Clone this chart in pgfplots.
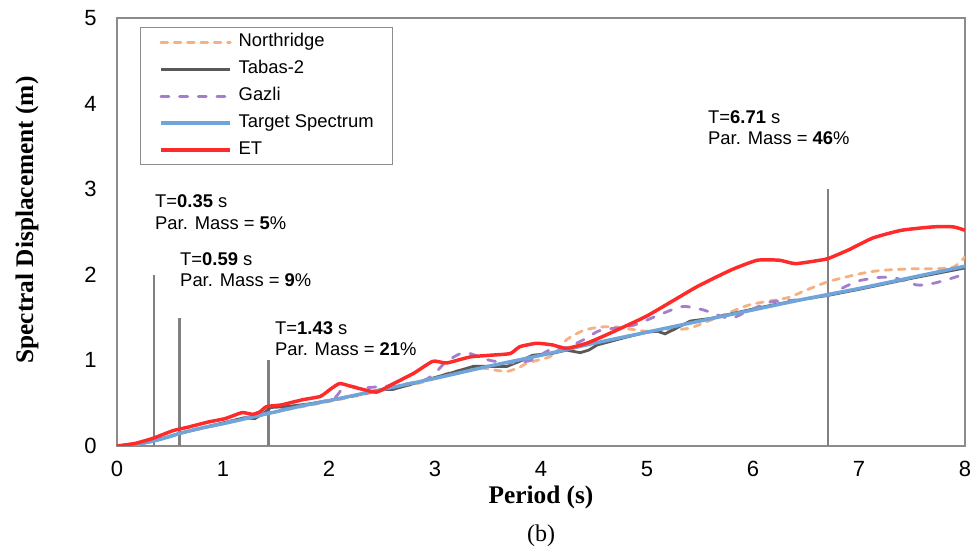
\documentclass[border=0pt]{standalone}
\usepackage{pgfplots}
\pgfplotsset{compat=1.18}
\usepackage{fontspec}
\setmainfont{Liberation Sans}
\newfontfamily\serifface{Liberation Serif}

\definecolor{nrOrange}{HTML}{F4B183}
\definecolor{tabGray}{HTML}{595959}
\definecolor{gazPurple}{HTML}{A37FCB}
\definecolor{tgtBlue}{HTML}{6FA5DA}
\definecolor{etRed}{HTML}{FF2B2B}
\definecolor{frameGray}{HTML}{8C8C8C}
\definecolor{modeGray}{HTML}{808080}

\begin{document}
\begin{tikzpicture}
\useasboundingbox (-87.75pt,-79.5pt) rectangle (643.5pt,334.5pt);
\begin{axis}[
  at={(0pt,0pt)}, anchor=south west,
  scale only axis, width=636pt, height=321pt,
  xmin=0, xmax=8, ymin=0, ymax=5,
  xtick={0,1,...,8}, ytick={0,1,...,5},
  major tick length=0pt,
  axis line style={draw=frameGray, line width=1.2pt},
  /pgf/number format/assume math mode=true,
  ticklabel style={font=\fontsize{16.5}{16.5}\selectfont},
  yticklabel style={anchor=east, inner sep=0pt, xshift=-15pt},
  xticklabel style={anchor=north, inner sep=0pt, yshift=-11pt},
  xlabel={\serifface\bfseries Period (s)},
  ylabel={\serifface\bfseries Spectral Displacement (m)},
  label style={font=\fontsize{19}{19}\selectfont},
  xlabel style={at={(axis description cs:0.5,-0.119)}, anchor=center},
  ylabel style={at={(axis description cs:-0.106,0.528)}, anchor=center},
  legend cell align=left,
  legend image code/.code={\draw[#1] (0pt,0pt) -- (52pt,0pt);},
  legend style={at={(axis description cs:0.027,0.979)}, anchor=north west,
    draw=frameGray, line width=1pt, font=\fontsize{13.8}{16}\selectfont,
    inner xsep=14pt, inner ysep=4.4pt, row sep=7.25pt, column sep=5pt,
    nodes={inner sep=0pt, text height=10pt, text depth=3pt}},
]
% modal periods
\addplot[modeGray, line width=1.8pt, forget plot] coordinates {(0.35,0) (0.35,2)};
\addplot[modeGray, line width=1.8pt, forget plot] coordinates {(0.59,0) (0.59,1.5)};
\addplot[modeGray, line width=1.8pt, forget plot] coordinates {(1.43,0) (1.43,1)};
\addplot[modeGray, line width=1.8pt, forget plot] coordinates {(6.71,0) (6.71,3)};

% Northridge
\addplot[nrOrange, line width=2.1pt, line cap=round, dash pattern=on 5pt off 5pt, smooth, tension=0.4] coordinates {
(0,0) (0.35,0.06) (0.6,0.15) (1.0,0.26) (1.5,0.40) (2.0,0.52) (2.2,0.57)
(2.5,0.65) (2.8,0.72) (3.0,0.79) (3.14,0.86) (3.3,0.90) (3.45,0.91)
(3.6,0.88) (3.68,0.87) (3.8,0.92) (3.87,0.97) (4.08,1.04) (4.16,1.12)
(4.24,1.24) (4.4,1.35) (4.56,1.39) (4.7,1.39) (4.87,1.36) (5.0,1.34)
(5.19,1.35) (5.41,1.38) (5.66,1.50) (5.97,1.65) (6.32,1.73) (6.5,1.82)
(6.71,1.92) (7.0,2.01) (7.2,2.05) (7.5,2.07) (7.67,2.07) (7.89,2.09) (8.0,2.21)};
\addlegendentry{Northridge}

% Tabas-2
\addplot[tabGray, line width=2.1pt] coordinates {
(0,0) (0.2,0.02) (0.35,0.06) (0.6,0.15) (0.8,0.21) (1.0,0.27) (1.2,0.33)
(1.3,0.32) (1.38,0.38) (1.45,0.45) (1.6,0.46) (1.8,0.49) (2.0,0.53)
(2.2,0.58) (2.4,0.63) (2.5,0.66) (2.6,0.66) (2.8,0.73) (3.0,0.80)
(3.2,0.87) (3.36,0.93) (3.5,0.93) (3.68,0.93) (3.8,0.99) (3.92,1.06)
(4.1,1.08) (4.24,1.12) (4.37,1.09) (4.45,1.12) (4.53,1.18) (4.8,1.27)
(5.0,1.33) (5.1,1.34) (5.17,1.31) (5.25,1.36) (5.41,1.46) (5.6,1.49)
(6.0,1.60) (6.2,1.65) (6.5,1.72) (6.71,1.76) (7.0,1.83) (7.5,1.96) (8.0,2.08)};
\addlegendentry{Tabas-2}

% Gazli
\addplot[gazPurple, line width=2.1pt, line cap=round, dash pattern=on 6pt off 8pt, smooth, tension=0.4] coordinates {
(0,0) (0.35,0.06) (0.6,0.15) (1.0,0.27) (1.5,0.41) (1.9,0.51) (2.05,0.56)
(2.12,0.66) (2.18,0.70) (2.3,0.68) (2.45,0.69) (2.7,0.72) (2.9,0.77)
(3.0,0.85) (3.1,0.98) (3.24,1.08) (3.33,1.08) (3.52,1.00) (3.71,0.97)
(3.9,1.00) (4.08,1.12) (4.24,1.15) (4.4,1.24) (4.56,1.35) (4.87,1.41)
(5.15,1.55) (5.34,1.63) (5.53,1.59) (5.78,1.49) (5.94,1.57) (6.16,1.68)
(6.35,1.70) (6.5,1.72) (6.71,1.76) (6.85,1.85) (7.0,1.93) (7.2,1.97)
(7.35,1.96) (7.55,1.88) (7.7,1.90) (7.85,1.95) (8.0,2.01)};
\addlegendentry{Gazli}

% Target spectrum
\addplot[tgtBlue, line width=2.6pt, smooth, tension=0.4] coordinates {
(0,0) (0.1,0.005) (0.2,0.02) (0.35,0.06) (0.5,0.11) (0.6,0.15) (0.8,0.21)
(1.0,0.26) (1.25,0.33) (1.5,0.40) (1.75,0.47) (2.0,0.53) (2.5,0.66)
(3.0,0.79) (3.5,0.93) (4.0,1.06) (4.5,1.20) (5.0,1.33) (5.5,1.46)
(6.0,1.59) (6.5,1.72) (7.0,1.84) (7.5,1.97) (8.0,2.10)};
\addlegendentry{Target Spectrum}

% ET
\addplot[etRed, line width=2.6pt, line join=round, smooth, tension=0.3] coordinates {
(0,0) (0.17,0.03) (0.34,0.09) (0.53,0.18) (0.67,0.22) (0.86,0.28)
(1.02,0.32) (1.18,0.39) (1.28,0.37) (1.35,0.40) (1.41,0.46) (1.55,0.48)
(1.75,0.54) (1.92,0.58) (2.02,0.67) (2.10,0.73) (2.2,0.70) (2.29,0.67)
(2.45,0.63) (2.61,0.73) (2.80,0.85) (2.98,0.99) (3.11,0.97) (3.33,1.04)
(3.52,1.06) (3.71,1.08) (3.80,1.16) (3.96,1.20) (4.11,1.18) (4.24,1.14)
(4.43,1.20) (4.62,1.30) (5.0,1.52) (5.47,1.86) (5.8,2.06) (6.04,2.17)
(6.25,2.17) (6.4,2.13) (6.63,2.17) (6.71,2.19) (6.9,2.29) (7.13,2.43)
(7.4,2.52) (7.7,2.56) (7.89,2.56) (8.0,2.52)};
\addlegendentry{ET}

% modal period annotations
\begin{scope}[every node/.style={anchor=west, inner sep=0pt, align=left,
  font=\fontsize{13.8}{16}\selectfont}]
\node at (axis cs:0.358,2.73) {T=\textbf{0.35} s\\Par. Mass = \textbf{5}\%};
\node at (axis cs:0.594,2.06) {T=\textbf{0.59} s\\Par. Mass = \textbf{9}\%};
\node at (axis cs:1.49,1.256) {T=\textbf{1.43} s\\Par. Mass = \textbf{21}\%};
\node at (axis cs:5.575,3.72) {T=\textbf{6.71} s\\Par. Mass = \textbf{46}\%};
\end{scope}
\end{axis}
\node[font=\serifface\fontsize{18}{18}\selectfont] at (318pt,-67.5pt) {(b)};
\end{tikzpicture}
\end{document}
